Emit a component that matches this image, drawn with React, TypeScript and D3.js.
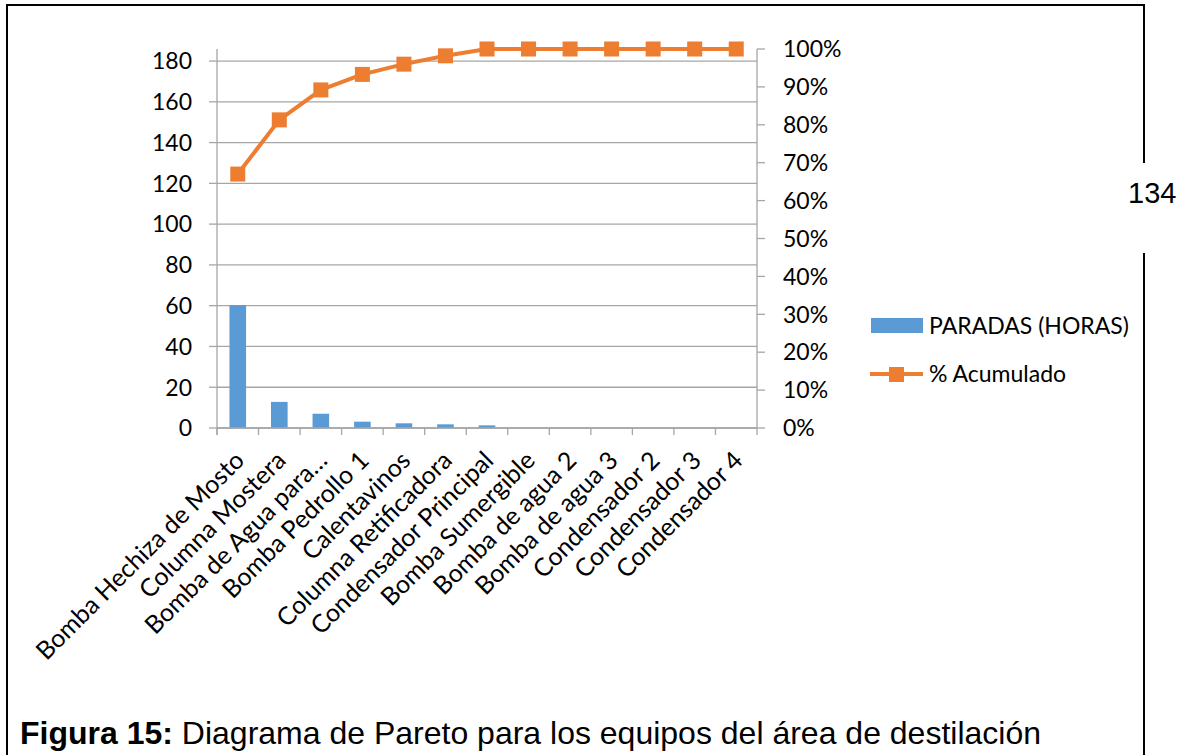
import React from "react";
import * as d3 from "d3";

const categories = [
  "Bomba Hechiza de Mosto",
  "Columna Mostera",
  "Bomba de Agua para…",
  "Bomba Pedrollo 1",
  "Calentavinos",
  "Columna Retificadora",
  "Condensador Principal",
  "Bomba Sumergible",
  "Bomba de agua 2",
  "Bomba de agua 3",
  "Condensador 2",
  "Condensador 3",
  "Condensador 4",
];
const paradas = [60.3, 12.8, 7.0, 3.1, 2.3, 1.8, 1.3, 0, 0, 0, 0, 0, 0];
const acumulado = [0.67, 0.813, 0.892, 0.933, 0.96, 0.982, 1, 1, 1, 1, 1, 1, 1];
const leftTicks = [0, 20, 40, 60, 80, 100, 120, 140, 160, 180];
const rightTicks = [0, 0.1, 0.2, 0.3, 0.4, 0.5, 0.6, 0.7, 0.8, 0.9, 1];
const legendLabels = ["PARADAS (HORAS)", "% Acumulado"];

const BLUE = "#5B9BD5";
const ORANGE = "#ED7D31";
const GRID = "#A6A6A6";
const FONT = "Lato, 'Noto Sans', sans-serif";

export default function App() {
  const x0 = 217, x1 = 757, yTop = 49, yBot = 428;
  const x = d3.scaleBand<string>().domain(categories).range([x0, x1]).padding(0);
  const yL = d3.scaleLinear().domain([0, 185.9]).range([yBot, yTop]);
  const yR = d3.scaleLinear().domain([0, 1]).range([yBot, yTop]);
  const bw = x.bandwidth() / 2.5;
  const cx = (c: string) => (x(c) as number) + x.bandwidth() / 2;
  const line = d3
    .line<number>()
    .x((_, i) => cx(categories[i]))
    .y((d) => yR(d));
  const ms = 15;

  return (
    <svg
      width={1178}
      height={755}
      style={{ position: "absolute", left: 0, top: 0, background: "#fff" }}
    >
      {/* page frame */}
      <g stroke="#000" strokeWidth={2}>
        <line x1={7} y1={5} x2={7} y2={755} />
        <line x1={6} y1={5} x2={1145} y2={5} />
        <line x1={1144} y1={5} x2={1144} y2={163} />
        <line x1={1144} y1={253} x2={1144} y2={755} />
      </g>
      <text x={1128} y={202.5} fontFamily="'Liberation Sans', Arial, sans-serif" fontSize={29}>
        134
      </text>

      {/* gridlines */}
      <g stroke={GRID} strokeWidth={1.3}>
        {leftTicks.map((t) => (
          <line key={t} x1={x0} x2={x1} y1={yL(t)} y2={yL(t)} />
        ))}
      </g>

      {/* bars */}
      <g fill={BLUE}>
        {paradas.map((v, i) => (
          <rect
            key={i}
            x={cx(categories[i]) - bw / 2}
            y={yL(v)}
            width={bw}
            height={yBot - yL(v)}
          />
        ))}
      </g>

      {/* axes */}
      <g stroke={GRID} strokeWidth={1.3}>
        <line x1={x0} x2={x0} y1={yTop} y2={yBot + 7} />
        <line x1={x1} x2={x1} y1={yTop} y2={yBot + 7} />
        <line x1={x0} x2={x1} y1={yBot} y2={yBot} />
        {leftTicks.map((t) => (
          <line key={"l" + t} x1={x0 - 8} x2={x0} y1={yL(t)} y2={yL(t)} />
        ))}
        {rightTicks.map((t) => (
          <line key={"r" + t} x1={x1} x2={x1 + 8} y1={yR(t)} y2={yR(t)} />
        ))}
        {categories.map((c) => (
          <line key={"x" + c} x1={x(c)} x2={x(c)} y1={yBot} y2={yBot + 7} />
        ))}
      </g>

      {/* axis labels */}
      <g fontFamily={FONT} fontSize={23} fill="#000">
        {leftTicks.map((t) => (
          <text key={t} x={192} y={yL(t)} dy="0.36em" textAnchor="end">
            {t}
          </text>
        ))}
        {rightTicks.map((t) => (
          <text key={t} x={783} y={yR(t)} dy="0.36em">
            {d3.format(".0%")(t)}
          </text>
        ))}
      </g>
      <g fontFamily={FONT} fontSize={25} fill="#000">
        {categories.map((c) => (
          <text
            key={c}
            textAnchor="end"
            transform={`translate(${cx(c) + 8},${462}) rotate(-45)`}
          >
            {c}
          </text>
        ))}
      </g>

      {/* cumulative line */}
      <path d={line(acumulado) || ""} fill="none" stroke={ORANGE} strokeWidth={4} strokeLinejoin="round" />
      <g fill={ORANGE}>
        {acumulado.map((v, i) => (
          <rect
            key={i}
            x={cx(categories[i]) - ms / 2}
            y={yR(v) - ms / 2}
            width={ms}
            height={ms}
          />
        ))}
      </g>

      {/* legend */}
      <g fontFamily={FONT} fontSize={23} fill="#000">
        <rect x={871} y={318} width={52} height={15} fill={BLUE} />
        <text x={929} y={334}>{legendLabels[0]}</text>
        <line x1={870} x2={923} y1={374} y2={374} stroke={ORANGE} strokeWidth={4} />
        <rect x={889} y={367} width={15} height={15} fill={ORANGE} />
        <text x={929} y={382}>{legendLabels[1]}</text>
      </g>

      {/* caption */}
      <text x={20} y={744} fontFamily="'Liberation Sans', Arial, sans-serif" fontSize={32} fill="#000">
        <tspan fontWeight="bold">Figura 15:</tspan>
        <tspan> Diagrama de Pareto para los equipos del área de destilación</tspan>
      </text>
    </svg>
  );
}
